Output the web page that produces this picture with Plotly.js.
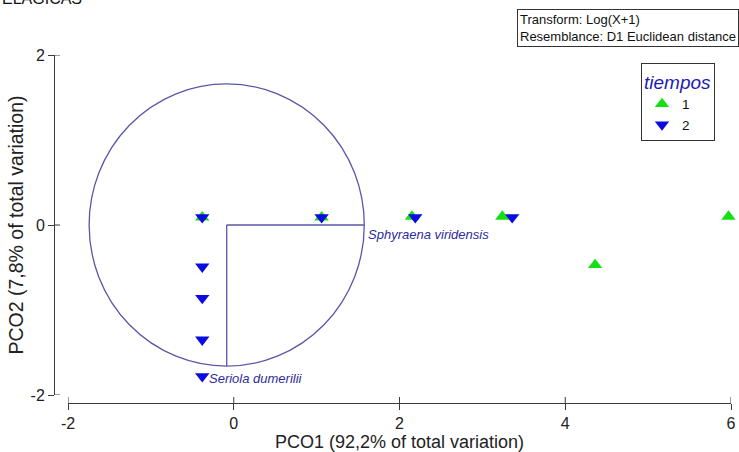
<!DOCTYPE html>
<html>
<head>
<meta charset="utf-8">
<script src="https://cdn.plot.ly/plotly-3.0.1.min.js"></script>
<style>html,body{margin:0;padding:0;background:#fff}#chart{width:739px;height:452px}</style>
</head>
<body>
<div id="chart"></div>
<script>
// Data
var group1X = [-0.38, 1.06, 2.15, 3.24, 4.36, 5.97];
var group1Y = [0.09, 0.09, 0.10, 0.10, -0.47, 0.10];
var group2X = [-0.38, 1.06, 2.19, 3.36, -0.38, -0.38, -0.38, -0.38];
var group2Y = [0.09, 0.09, 0.09, 0.09, -0.49, -0.86, -1.35, -1.78];
var groupNames = ["1", "2"];
var vectorNames = ["Sphyraena viridensis", "Seriola dumerilii"];
var vectorOriginX = -0.085;
var vectorOriginY = 0;
var vectorEndX = [1.575, -0.085];
var vectorEndY = [0, -1.66];
var circleRadius = 1.66;
var xTicks = [-2, 0, 2, 4, 6];
var yTicks = [-2, 0, 2];

var axisColor = '#3a3a3a';
var vecColor = '#5a56a8';
var fontFam = 'Liberation Sans, Arial, sans-serif';

var W = 739, H = 452;
var xAxisPos = 1 - 403 / H;   // paper y of the detached x axis line
var yAxisPos = 54 / W;        // paper x of the detached y axis line
var tickIn = 6;               // inner half of the crossing ticks, px

var traces = [
  {x: group1X, y: group1Y, type: 'scatter', mode: 'markers', name: groupNames[0],
   marker: {symbol: 'triangle-up', size: 12.5, color: 'rgb(20,225,20)'}, cliponaxis: false},
  {x: group2X, y: group2Y, type: 'scatter', mode: 'markers', name: groupNames[1],
   marker: {symbol: 'triangle-down', size: 12.5, color: 'rgb(10,10,225)'}, cliponaxis: false}
];

var shapes = [{
  type: 'circle', xref: 'x', yref: 'y',
  x0: vectorOriginX - circleRadius, x1: vectorOriginX + circleRadius,
  y0: vectorOriginY - circleRadius, y1: vectorOriginY + circleRadius,
  line: {color: vecColor, width: 1.3}, layer: 'below'
}];
vectorNames.forEach(function (n, i) {
  shapes.push({type: 'line', xref: 'x', yref: 'y', x0: vectorOriginX, y0: vectorOriginY,
    x1: vectorEndX[i], y1: vectorEndY[i], line: {color: vecColor, width: 1.3}, layer: 'below'});
});
// inner half of the crossing tick marks
xTicks.forEach(function (t) {
  shapes.push({type: 'line', xref: 'x', yref: 'paper', x0: t, x1: t,
    y0: xAxisPos, y1: xAxisPos + tickIn / H, line: {color: axisColor, width: 1}});
});
yTicks.forEach(function (t) {
  shapes.push({type: 'line', xref: 'paper', yref: 'y', x0: yAxisPos, x1: yAxisPos + tickIn / W,
    y0: t, y1: t, line: {color: axisColor, width: 1}});
});

var annotations = [
  {text: vectorNames[0], xref: 'x', yref: 'y', x: vectorEndX[0] + 0.02, y: vectorEndY[0] - 0.11,
   xanchor: 'left', yanchor: 'middle', showarrow: false,
   font: {family: fontFam, size: 13, color: '#2c2c9c', style: 'italic'}},
  {text: vectorNames[1], xref: 'x', yref: 'y', x: -0.32, y: -1.81,
   xanchor: 'left', yanchor: 'middle', showarrow: false,
   font: {family: fontFam, size: 13, color: '#2c2c9c', style: 'italic'}},
  {text: 'Transform: Log(X+1)<br>Resemblance: D1 Euclidean distance', xref: 'paper', yref: 'paper',
   x: 517 / W, y: 1 - 9 / H, xanchor: 'left', yanchor: 'top', align: 'left', showarrow: false,
   bordercolor: '#333', borderwidth: 1, borderpad: 2, bgcolor: '#fff',
   font: {family: fontFam, size: 13, color: '#111'}},
  {text: 'ELAGICAS', xref: 'paper', yref: 'paper', x: 0, y: 1 - 9 / H,
   xanchor: 'left', yanchor: 'bottom', showarrow: false,
   font: {family: fontFam, size: 16, color: '#111'}}
];

var layout = {
  width: W, height: H,
  margin: {l: 0, r: 0, t: 0, b: 0},
  paper_bgcolor: '#fff', plot_bgcolor: '#fff',
  font: {family: fontFam, color: '#222'},
  showlegend: true,
  legend: {
    x: 641 / W, y: 1 - 63 / H, xanchor: 'left', yanchor: 'top',
    bordercolor: '#333', borderwidth: 1, bgcolor: '#fff',
    title: {text: 'tiempos', font: {family: fontFam, size: 19, color: '#1c1cb4', style: 'italic'}},
    font: {family: fontFam, size: 13.5, color: '#111'},
    tracegroupgap: 0
  },
  xaxis: {
    range: [-2, 6], domain: [68 / W, 731 / W], anchor: 'free', position: xAxisPos,
    tickvals: xTicks, ticktext: xTicks.map(String), ticks: 'outside', ticklen: 6, tickcolor: axisColor,
    showline: true, linecolor: axisColor, linewidth: 1, showgrid: false, zeroline: false,
    tickfont: {family: fontFam, size: 16, color: '#222'},
    title: {text: 'PCO1 (92,2% of total variation)', font: {family: fontFam, size: 18, color: '#222'}, standoff: 5}
  },
  yaxis: {
    range: [-2, 2], domain: [1 - 395 / H, 1 - 55 / H], anchor: 'free', position: yAxisPos,
    tickvals: yTicks, ticktext: yTicks.map(String), ticks: 'outside', ticklen: 6, tickcolor: axisColor,
    showline: true, linecolor: axisColor, linewidth: 1, showgrid: false, zeroline: false,
    tickfont: {family: fontFam, size: 16, color: '#222'},
    title: {text: 'PCO2 (7,8% of total variation)', font: {family: fontFam, size: 19.5, color: '#222'}, standoff: 0}
  },
  shapes: shapes,
  annotations: annotations
};

Plotly.newPlot('chart', traces, layout, {displayModeBar: false, staticPlot: true});
</script>
</body>
</html>
